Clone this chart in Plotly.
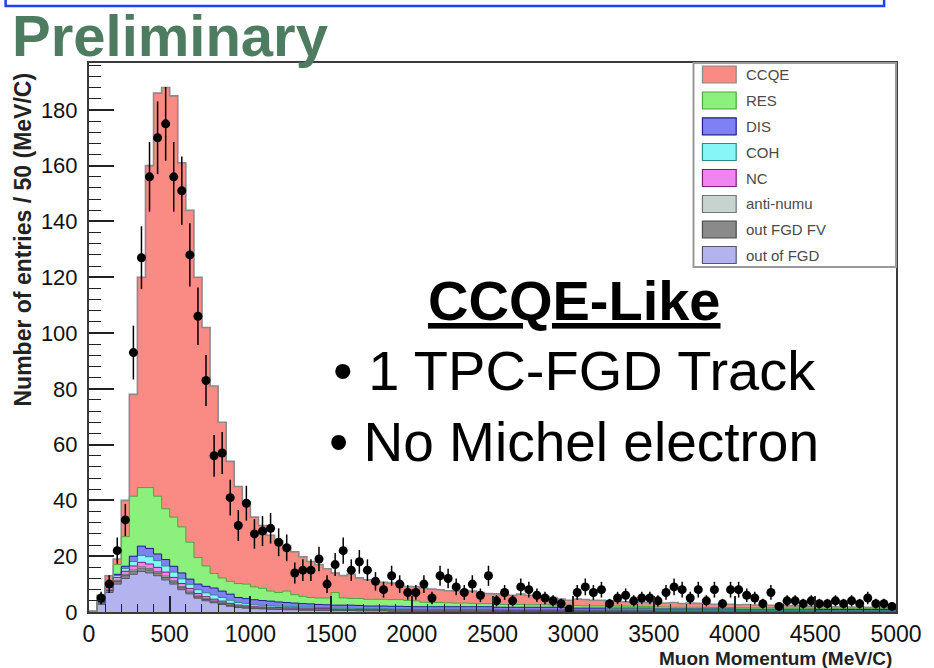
import numpy as np
import plotly.graph_objects as go

# ---------------------------------------------------------------------------
# Binning: 100 bins of 50 MeV/c between 0 and 5000 MeV/c
# ---------------------------------------------------------------------------
bin_width = 50
bin_edges = np.arange(0, 5001, bin_width)
bin_centers = bin_edges[:-1] + bin_width / 2

# Observed events per bin
data_counts = [
    0, 5, 10, 22, 33, 93, 127, 156, 170, 175,
    156, 151, 128, 106, 83, 56, 57, 41, 31, 39,
    28, 29, 30, 25, 23, 14, 15, 15, 19, 10,
    17, 22, 15, 18, 15, 11, 8, 13, 10, 7,
    7, 10, 5, 13, 12, 9, 7, 10, 6, 13,
    4, 7, 4, 9, 8, 6, 5, 4, 3, 1,
    7, 9, 7, 8, 3, 5, 6, 4, 5, 5,
    4, 7, 9, 8, 5, 8, 4, 8, 3, 8,
    8, 6, 5, 3, 7, 2, 4, 4, 3, 4,
    3, 3, 4, 3, 4, 3, 5, 3, 3, 2,
]

# Simulated contributions per bin (stacked, bottom to top)
mc_out_of_fgd = [
    0.2, 2.8, 7.0, 10.0, 12.0, 13.5, 14.5, 14.0, 13.0, 11.5,
    10.0, 8.0, 6.5, 5.0, 4.0, 3.3, 2.7, 2.1, 1.6, 1.4,
    1.2, 1.1, 1.0, 0.9, 0.8, 0.8, 0.7, 0.7, 0.6, 0.6,
    0.5, 0.5, 0.5, 0.4, 0.4, 0.4, 0.4, 0.3, 0.3, 0.3,
    0.3, 0.3, 0.3, 0.3, 0.3, 0.3, 0.3, 0.3, 0.3, 0.3,
    0.2, 0.2, 0.2, 0.2, 0.2, 0.2, 0.2, 0.2, 0.2, 0.2,
    0.2, 0.2, 0.2, 0.2, 0.2, 0.2, 0.2, 0.2, 0.2, 0.2,
    0.1, 0.1, 0.1, 0.1, 0.1, 0.1, 0.1, 0.1, 0.1, 0.1,
    0.1, 0.1, 0.1, 0.1, 0.1, 0.1, 0.1, 0.1, 0.1, 0.1,
    0.1, 0.1, 0.1, 0.1, 0.1, 0.1, 0.1, 0.1, 0.1, 0.1,
]
mc_out_fgd_fv = [
    0.0, 0.3, 0.7, 0.9, 1.0, 1.1, 1.2, 1.1, 1.0, 0.9,
    0.8, 0.7, 0.6, 0.5, 0.5, 0.4, 0.4, 0.3, 0.3, 0.3,
    0.2, 0.2, 0.2, 0.2, 0.2, 0.2, 0.2, 0.2, 0.2, 0.2,
    0.15, 0.15, 0.15, 0.15, 0.15, 0.15, 0.15, 0.15, 0.15, 0.15,
    0.1, 0.1, 0.1, 0.1, 0.1, 0.1, 0.1, 0.1, 0.1, 0.1,
    0.1, 0.1, 0.1, 0.1, 0.1, 0.1, 0.1, 0.1, 0.1, 0.1,
    0.1, 0.1, 0.1, 0.1, 0.1, 0.1, 0.1, 0.1, 0.1, 0.1,
    0.1, 0.1, 0.1, 0.1, 0.1, 0.1, 0.1, 0.1, 0.1, 0.1,
    0.1, 0.1, 0.1, 0.1, 0.1, 0.1, 0.1, 0.1, 0.1, 0.1,
    0.1, 0.1, 0.1, 0.1, 0.1, 0.1, 0.1, 0.1, 0.1, 0.1,
]
mc_anti_numu = [
    0.0, 0.1, 0.3, 0.4, 0.4, 0.5, 0.5, 0.5, 0.5, 0.5,
    0.4, 0.4, 0.4, 0.3, 0.3, 0.3, 0.3, 0.3, 0.2, 0.2,
    0.2, 0.2, 0.2, 0.2, 0.2, 0.2, 0.2, 0.2, 0.2, 0.2,
    0.2, 0.2, 0.2, 0.2, 0.2, 0.2, 0.2, 0.2, 0.2, 0.2,
    0.2, 0.2, 0.2, 0.2, 0.2, 0.2, 0.2, 0.2, 0.2, 0.2,
    0.2, 0.2, 0.2, 0.2, 0.2, 0.2, 0.2, 0.2, 0.2, 0.2,
    0.2, 0.2, 0.2, 0.2, 0.2, 0.2, 0.2, 0.2, 0.2, 0.2,
    0.1, 0.1, 0.1, 0.1, 0.1, 0.1, 0.1, 0.1, 0.1, 0.1,
    0.1, 0.1, 0.1, 0.1, 0.1, 0.1, 0.1, 0.1, 0.1, 0.1,
    0.1, 0.1, 0.1, 0.1, 0.1, 0.1, 0.1, 0.1, 0.1, 0.1,
]
mc_nc = [
    0.0, 0.3, 0.8, 1.1, 1.2, 1.4, 1.6, 1.6, 1.5, 1.4,
    1.2, 1.1, 0.9, 0.8, 0.7, 0.6, 0.5, 0.4, 0.4, 0.3,
    0.3, 0.3, 0.3, 0.3, 0.3, 0.3, 0.3, 0.3, 0.3, 0.3,
    0.2, 0.2, 0.2, 0.2, 0.2, 0.2, 0.2, 0.2, 0.2, 0.2,
    0.2, 0.2, 0.2, 0.2, 0.2, 0.2, 0.2, 0.2, 0.2, 0.2,
    0.2, 0.2, 0.2, 0.2, 0.2, 0.2, 0.2, 0.2, 0.2, 0.2,
    0.1, 0.1, 0.1, 0.1, 0.1, 0.1, 0.1, 0.1, 0.1, 0.1,
    0.1, 0.1, 0.1, 0.1, 0.1, 0.1, 0.1, 0.1, 0.1, 0.1,
    0.1, 0.1, 0.1, 0.1, 0.1, 0.1, 0.1, 0.1, 0.1, 0.1,
    0.1, 0.1, 0.1, 0.1, 0.1, 0.1, 0.1, 0.1, 0.1, 0.1,
]
mc_coh = [
    0.0, 0.2, 0.4, 0.7, 1.0, 1.6, 2.5, 2.6, 2.4, 2.2,
    1.9, 1.7, 1.5, 1.4, 1.4, 1.5, 1.3, 1.1, 0.9, 0.8,
    0.7, 0.6, 0.6, 0.5, 0.5, 0.4, 0.4, 0.4, 0.3, 0.3,
    0.3, 0.3, 0.3, 0.3, 0.2, 0.2, 0.2, 0.2, 0.2, 0.2,
    0.2, 0.2, 0.2, 0.2, 0.2, 0.2, 0.2, 0.2, 0.2, 0.2,
    0.2, 0.2, 0.2, 0.2, 0.2, 0.2, 0.2, 0.2, 0.2, 0.2,
    0.1, 0.1, 0.1, 0.1, 0.1, 0.1, 0.1, 0.1, 0.1, 0.1,
    0.1, 0.1, 0.1, 0.1, 0.1, 0.1, 0.1, 0.1, 0.1, 0.1,
    0.1, 0.1, 0.1, 0.1, 0.1, 0.1, 0.1, 0.1, 0.1, 0.1,
    0.1, 0.1, 0.1, 0.1, 0.1, 0.1, 0.1, 0.1, 0.1, 0.1,
]
mc_dis = [
    0.0, 0.1, 0.3, 0.4, 0.8, 1.9, 3.3, 3.0, 2.4, 2.3,
    2.1, 2.1, 1.9, 2.0, 2.3, 2.5, 2.3, 2.2, 1.8, 1.8,
    1.8, 1.7, 1.6, 1.5, 1.4, 1.3, 1.2, 1.1, 1.1, 1.0,
    1.1, 1.1, 1.1, 1.1, 1.0, 1.0, 1.0, 1.0, 1.0, 0.9,
    0.9, 0.9, 0.9, 0.9, 0.9, 0.9, 0.9, 0.9, 0.9, 0.9,
    0.8, 0.8, 0.8, 0.8, 0.8, 0.8, 0.8, 0.8, 0.8, 0.8,
    0.7, 0.7, 0.7, 0.7, 0.7, 0.7, 0.7, 0.7, 0.7, 0.7,
    0.6, 0.6, 0.6, 0.6, 0.6, 0.6, 0.6, 0.6, 0.6, 0.6,
    0.5, 0.5, 0.5, 0.5, 0.5, 0.5, 0.5, 0.5, 0.5, 0.5,
    0.4, 0.4, 0.4, 0.4, 0.4, 0.4, 0.4, 0.4, 0.4, 0.4,
]
mc_res = [
    0.0, 0.2, 1.5, 3.5, 10.6, 21.5, 21.0, 21.8, 20.7, 18.2,
    17.6, 16.5, 13.2, 9.5, 7.3, 5.2, 4.7, 4.6, 5.0, 5.2,
    4.6, 4.4, 3.6, 3.4, 4.1, 3.0, 2.6, 2.3, 2.3, 2.4,
    4.5, 2.6, 2.4, 2.5, 2.4, 2.4, 2.4, 2.4, 2.4, 2.2,
    2.1, 1.6, 1.5, 1.5, 1.4, 1.3, 1.3, 1.2, 1.1, 1.1,
    1.1, 1.0, 1.0, 1.0, 0.9, 0.9, 0.9, 0.8, 0.8, 0.8,
    0.9, 0.8, 0.8, 0.8, 0.7, 0.7, 0.7, 0.7, 0.6, 0.6,
    0.7, 0.7, 0.6, 0.6, 0.6, 0.6, 0.5, 0.5, 0.5, 0.5,
    0.5, 0.5, 0.5, 0.5, 0.5, 0.4, 0.4, 0.4, 0.4, 0.4,
    0.4, 0.4, 0.4, 0.4, 0.4, 0.4, 0.4, 0.4, 0.4, 0.4,
]
mc_ccqe = [
    0.1, 2.0, 2.0, 2.0, 13.0, 36.5, 75.4, 115.4, 144.5, 151.0,
    151.0, 130.5, 119.0, 100.5, 85.5, 67.2, 55.8, 43.0, 34.8, 29.5,
    25.0, 22.5, 20.0, 18.5, 16.3, 15.4, 14.2, 12.9, 12.0, 10.5,
    7.0, 8.0, 8.7, 7.4, 7.0, 6.6, 6.1, 5.9, 5.6, 5.0,
    5.0, 5.0, 4.8, 4.6, 4.3, 4.3, 4.0, 4.4, 4.0, 3.6,
    3.7, 3.5, 3.3, 3.7, 3.4, 3.2, 2.9, 2.7, 2.1, 1.7,
    2.3, 2.3, 2.0, 2.0, 1.9, 1.7, 1.6, 1.5, 1.5, 1.4,
    1.5, 1.4, 1.7, 1.3, 1.5, 1.4, 1.4, 1.2, 1.3, 1.2,
    1.1, 1.2, 1.0, 1.0, 0.9, 0.9, 0.9, 0.8, 0.8, 0.7,
    0.7, 0.7, 0.6, 0.6, 0.5, 0.5, 0.4, 0.4, 0.3, 0.3,
]

# Stack order (bottom -> top) with fill and edge colours
components = [
    ("out of FGD", mc_out_of_fgd, "#b3b3f0", "#55556e"),
    ("out FGD FV", mc_out_fgd_fv, "#8a8a8a", "#4a4a4a"),
    ("anti-numu", mc_anti_numu, "#c7d3cf", "#6d7672"),
    ("NC", mc_nc, "#f084f0", "#7a207a"),
    ("COH", mc_coh, "#86f6f6", "#2a8c8c"),
    ("DIS", mc_dis, "#7f80f2", "#1e1e8a"),
    ("RES", mc_res, "#8cf07c", "#4aa83c"),
    ("CCQE", mc_ccqe, "#f98a84", "#8a8a8a"),
]
legend_order = ["CCQE", "RES", "DIS", "COH", "NC", "anti-numu", "out FGD FV", "out of FGD"]

x_title = "Muon Momentum (MeV/C)"
y_title = "Number of entries / 50 (MeV/C)"

# ---------------------------------------------------------------------------
# Page geometry (pixels) and helpers to place decorations in paper space
# ---------------------------------------------------------------------------
W, H = 934, 668
L_PX, R_PX, T_PX, B_PX = 89, 902, 63, 612
PW, PH = R_PX - L_PX, B_PX - T_PX
Y_MAX = 196.8


def px_x(px):
    return (px - L_PX) / PW


def px_y(py):
    return (B_PX - py) / PH


fig = go.Figure()

# Stacked histogram bars
for name, values, fill, edge in components:
    fig.add_trace(go.Bar(
        x=bin_centers, y=values, width=bin_width, name=name,
        marker=dict(color=fill, line=dict(width=0)),
        showlegend=False, hoverinfo="skip",
    ))

# Step outlines of each cumulative layer
running = np.zeros(len(bin_centers))
for name, values, fill, edge in components:
    running = running + np.asarray(values, dtype=float)
    fig.add_trace(go.Scatter(
        x=bin_edges, y=np.append(running, running[-1]),
        mode="lines", line=dict(shape="hv", color=edge,
                                width=1.6 if name == "CCQE" else 1.0),
        showlegend=False, hoverinfo="skip",
    ))

# Data points with Poisson errors
counts = np.asarray(data_counts, dtype=float)
keep = counts > 0
fig.add_trace(go.Scatter(
    x=bin_centers[keep], y=counts[keep], mode="markers",
    marker=dict(color="black", size=9),
    error_y=dict(type="data", array=np.sqrt(counts[keep]), color="black",
                 thickness=1.5, width=0),
    showlegend=False, name="Data",
))

shapes = []
annotations = []

# Legend box drawn by hand
leg_x0, leg_x1, leg_y0, leg_y1 = 698, 902, 63, 267
shapes.append(dict(type="rect", xref="paper", yref="paper",
                   x0=px_x(leg_x0), x1=px_x(leg_x1), y0=px_y(leg_y1), y1=px_y(leg_y0),
                   line=dict(color="#9a9a9a", width=2), fillcolor="white", layer="above"))
row_y = [74.5, 100.5, 126.3, 152, 178, 204, 229.5, 255]
style = {name: (fill, edge) for name, _, fill, edge in components}
for label, cy in zip(legend_order, row_y):
    fill, edge = style[label]
    shapes.append(dict(type="rect", xref="paper", yref="paper",
                       x0=px_x(707), x1=px_x(741), y0=px_y(cy + 8.5), y1=px_y(cy - 8.5),
                       line=dict(color=edge, width=1.2), fillcolor=fill, layer="above"))
    annotations.append(dict(text=label, xref="paper", yref="paper",
                            x=px_x(749), y=px_y(cy), xanchor="left", yanchor="middle",
                            showarrow=False,
                            font=dict(family="Liberation Sans", size=15, color="#4a4a4a")))

# Blue frame at the top of the page
shapes.append(dict(type="rect", xref="paper", yref="paper",
                   x0=px_x(5), x1=px_x(890), y0=px_y(6), y1=px_y(-10),
                   line=dict(color="#2040f8", width=2.5), fillcolor="rgba(0,0,0,0)"))

# Headline and selection notes
annotations += [
    dict(text="<b>Preliminary</b>", xref="paper", yref="paper",
         x=px_x(9), y=px_y(35), xanchor="left", yanchor="middle", showarrow=False,
         font=dict(family="Liberation Sans", size=58, color="#4d7c60")),
    dict(text="<u><b>CCQE-Like</b></u>", xref="paper", yref="paper",
         x=px_x(578), y=px_y(300), xanchor="center", yanchor="middle", showarrow=False,
         font=dict(family="Liberation Sans", size=56, color="black")),
    dict(text="\u2022 1 TPC-FGD Track", xref="paper", yref="paper",
         x=px_x(578), y=px_y(370), xanchor="center", yanchor="middle", showarrow=False,
         font=dict(family="Liberation Sans", size=56, color="black")),
    dict(text="\u2022 No Michel electron", xref="paper", yref="paper",
         x=px_x(578), y=px_y(442), xanchor="center", yanchor="middle", showarrow=False,
         font=dict(family="Liberation Sans", size=55, color="black")),
    dict(text=f"<b>{x_title}</b>", xref="paper", yref="paper",
         x=px_x(900), y=px_y(658), xanchor="right", yanchor="middle", showarrow=False,
         font=dict(family="Liberation Sans", size=19, color="#222")),
    dict(text=f"<b>{y_title}</b>", xref="paper", yref="paper",
         x=px_x(23), y=px_y(239), xanchor="center", yanchor="middle", showarrow=False,
         textangle=-90,
         font=dict(family="Liberation Sans", size=23, color="#222")),
]

axis_line = dict(showline=True, linecolor="#3a3a3a", linewidth=2, mirror=True,
                 showgrid=False, zeroline=False)

fig.update_layout(
    width=W, height=H,
    margin=dict(l=L_PX, r=W - R_PX, t=T_PX, b=H - B_PX, pad=0),
    paper_bgcolor="white", plot_bgcolor="white",
    barmode="stack", bargap=0,
    shapes=shapes, annotations=annotations,
    showlegend=False,
    xaxis=dict(range=[0, 5000], tick0=0, dtick=500, ticks="inside", ticklen=16,
               tickwidth=1.5, tickcolor="#222",
               minor=dict(dtick=100, ticks="inside", ticklen=8, tickwidth=1, tickcolor="#222"),
               tickfont=dict(family="Liberation Sans", size=23, color="#111"),
               ticklabelstandoff=0, **axis_line),
    yaxis=dict(range=[0, Y_MAX], tick0=0, dtick=20, ticks="inside", ticklen=25,
               tickwidth=1.5, tickcolor="#222",
               minor=dict(dtick=4, ticks="inside", ticklen=12, tickwidth=1, tickcolor="#222"),
               tickfont=dict(family="Liberation Sans", size=22, color="#111"),
               ticklabelstandoff=5, **axis_line),
)

fig.write_html("out.html")
